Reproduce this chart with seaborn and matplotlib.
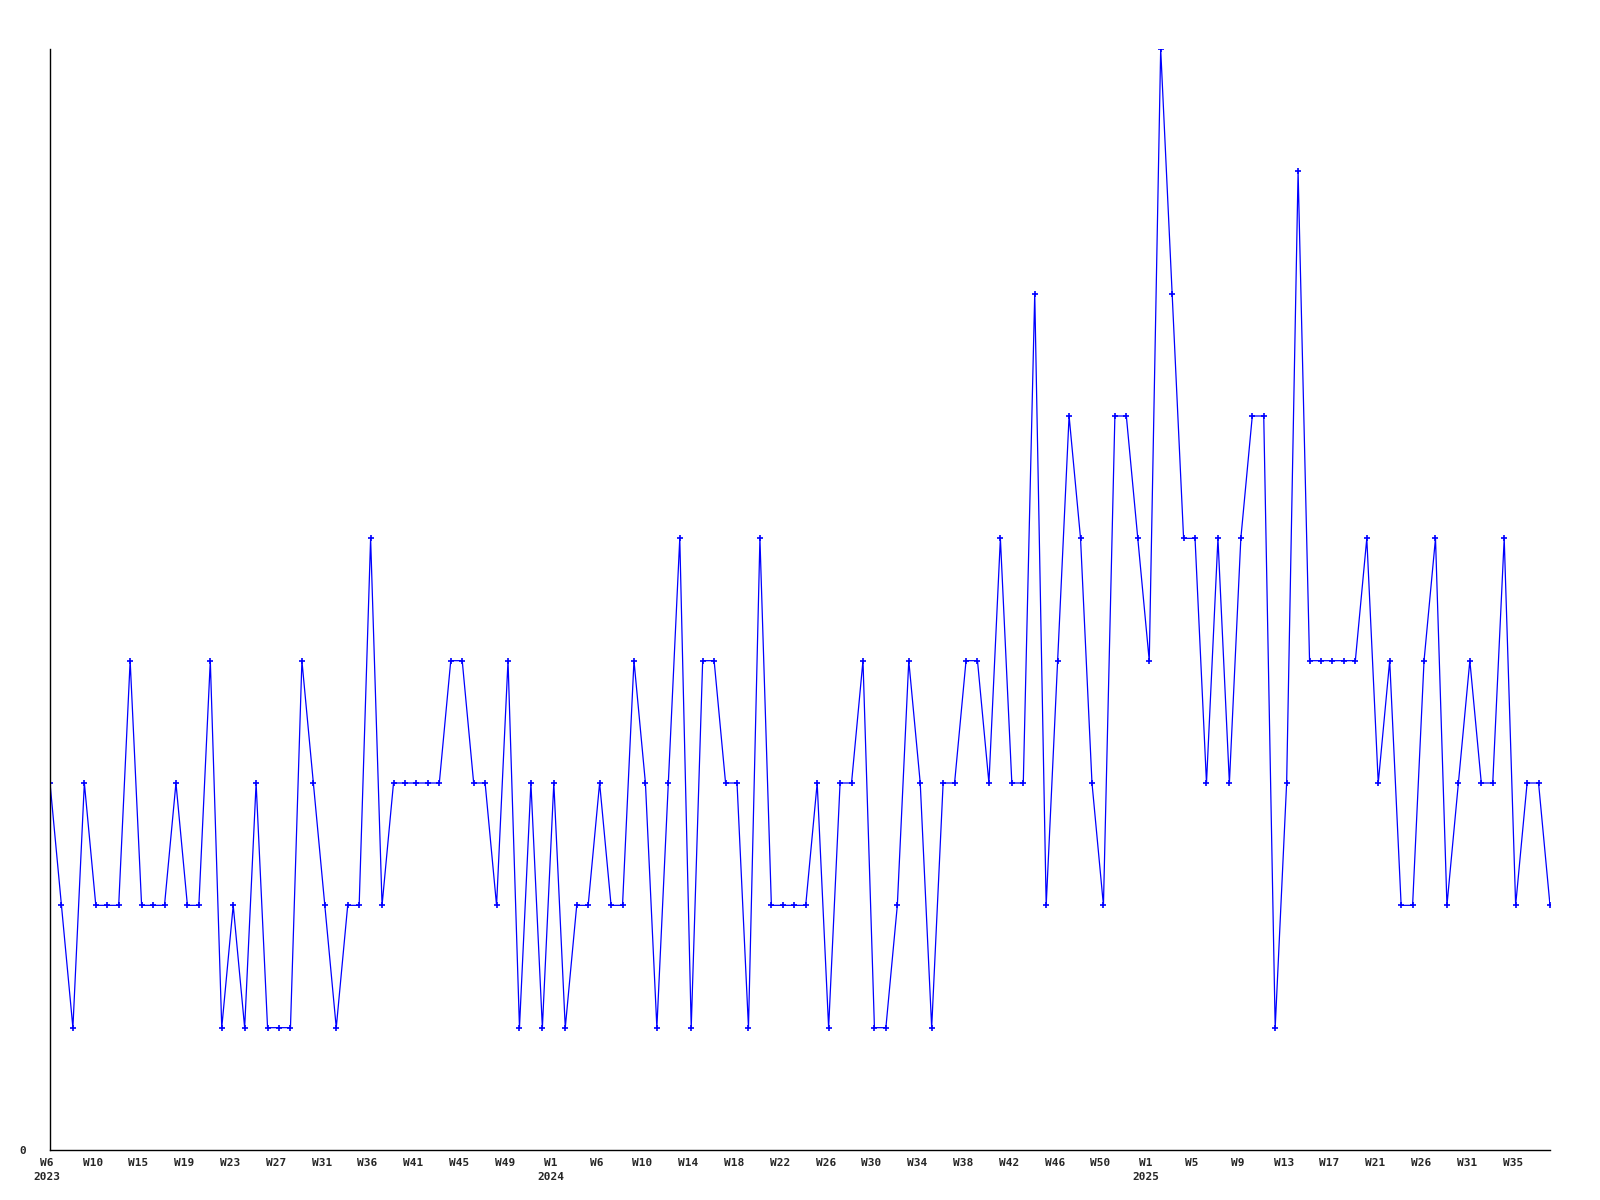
import numpy as np
import pandas as pd
import matplotlib
matplotlib.use('Agg')
import matplotlib.pyplot as plt
import matplotlib.transforms as mtransforms
import seaborn as sns

# weekly counts, one per point
counts = [3, 2, 1, 3, 2, 2, 2, 4, 2, 2, 2, 3, 2, 2, 4, 1, 2, 1, 3, 1,
          1, 1, 4, 3, 2, 1, 2, 2, 5, 2, 3, 3, 3, 3, 3, 4, 4, 3, 3, 2,
          4, 1, 3, 1, 3, 1, 2, 2, 3, 2, 2, 4, 3, 1, 3, 5, 1, 4, 4, 3,
          3, 1, 5, 2, 2, 2, 2, 3, 1, 3, 3, 4, 1, 1, 2, 4, 3, 1, 3, 3,
          4, 4, 3, 5, 3, 3, 7, 2, 4, 6, 5, 3, 2, 6, 6, 5, 4, 9, 7, 5,
          5, 3, 5, 3, 5, 6, 6, 1, 3, 8, 4, 4, 4, 4, 4, 5, 3, 4, 2, 2,
          4, 5, 2, 3, 4, 3, 3, 5, 2, 3, 3, 2]

# tick labels, every 4th point
week_labels = ['W6', 'W10', 'W15', 'W19', 'W23', 'W27', 'W31', 'W36', 'W41', 'W45',
               'W49', 'W1', 'W6', 'W10', 'W14', 'W18', 'W22', 'W26', 'W30', 'W34',
               'W38', 'W42', 'W46', 'W50', 'W1', 'W5', 'W9', 'W13', 'W17', 'W21',
               'W26', 'W31', 'W35']
year_marks = {0: '2023', 11: '2024', 24: '2025'}

df = pd.DataFrame({'idx': np.arange(len(counts)), 'count': counts})

sns.set_style('white')
plt.rcParams['font.family'] = ['DejaVu Sans Mono']

fig = plt.figure(figsize=(16, 12), dpi=100)
ax = fig.add_axes([50 / 1600, 1 - 1150 / 1200, 1500 / 1600, 1101 / 1200])

sns.lineplot(data=df, x='idx', y='count', ax=ax, color='#0000ff', linewidth=0.9,
             marker='+', markersize=4, markeredgewidth=1.2, markeredgecolor='#0000ff')

ax.set_xlim(0, len(counts) - 1)
ax.set_ylim(0, max(counts))

ticks = list(range(0, len(counts), 4))[:len(week_labels)]
labels = []
for i, w in enumerate(week_labels):
    if i in year_marks:
        labels.append(w + '\n' + year_marks[i])
    else:
        labels.append(w)
ax.set_xticks(ticks)
ax.set_xticklabels(labels, fontsize=8, fontweight='bold', linespacing=1.5)
ax.set_yticks([0])
ax.set_yticklabels(['0'], fontsize=8, fontweight='bold')
ax.tick_params(axis='both', length=0, pad=6)
ax.tick_params(axis='y', pad=17)

# nudge the week labels a little to the left
shift = mtransforms.ScaledTranslation(-3 / 100, 0, fig.dpi_scale_trans)
for lab in ax.get_xticklabels():
    lab.set_transform(lab.get_transform() + shift)

for s in ['top', 'right']:
    ax.spines[s].set_visible(False)
for s in ['left', 'bottom']:
    ax.spines[s].set_color('black')
    ax.spines[s].set_linewidth(1)

ax.set_xlabel('')
ax.set_ylabel('')

fig.savefig('out.png', dpi=100)
